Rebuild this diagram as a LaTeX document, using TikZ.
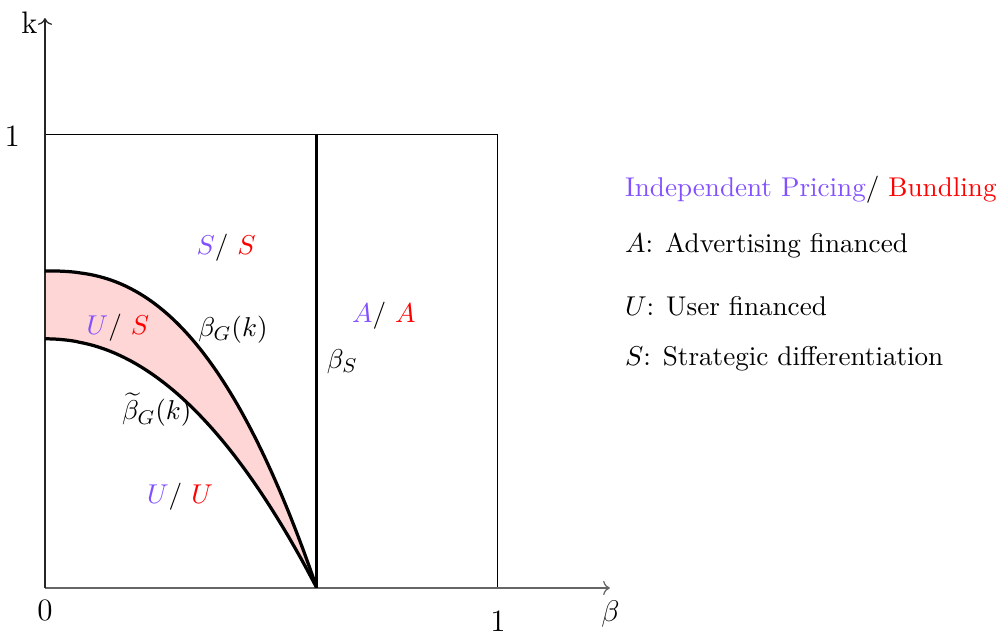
\documentclass[tikz,border=0pt]{standalone}
\usepackage{amsmath,amssymb}
\usepackage{tikz}
\usetikzlibrary{arrows.meta,positioning}
\usepackage{xcolor}
\definecolor{ipcol}{RGB}{130,80,255}
\definecolor{bucol}{RGB}{255,0,0}

\begin{document}
\begin{tikzpicture}[x=6.4cm,y=6.4cm,
  axis/.style={->, line width=0.5pt},
  thickcurve/.style={line width=1.3pt},
  lbl/.style={inner sep=1pt, font=\fontsize{10.9}{13}\selectfont},
  ticklbl/.style={inner sep=1pt, font=\fontsize{12.5}{15}\selectfont},
  legend/.style={anchor=west, inner sep=1pt, font=\fontsize{10.9}{13}\selectfont}
]
\useasboundingbox (-0.0993,-0.1038) rectangle (2.106,1.298);

% Region between the two curves
\fill[red!16] plot[domain=0:0.6, samples=80] (\x,{0.7*(1-(\x/0.6)^2.5)})
  -- plot[domain=0.6:0, samples=80] (\x,{0.55*(1-(\x/0.6)^2.1)}) -- cycle;

% Box
\draw[line width=0.4pt] (0,0) rectangle (1,1);

% Axes
\draw[axis, black!60] (0,0) -- (1.247,0);
\draw[axis, black!85] (0,0) -- (0,1.258);
\node[ticklbl, anchor=east] (klbl) at (-0.01,1.248) {k};
\node[ticklbl] (yone) at (-0.072,0.998) {1};
\node[ticklbl] (xzero) at (0,-0.05) {0};
\node[ticklbl] (xone) at (1,-0.073) {1};
\node[ticklbl] (blbl) at (1.248,-0.058) {$\beta$};

% Curves
\draw[thickcurve] plot[domain=0:0.6, samples=80] (\x,{0.7*(1-(\x/0.6)^2.5)});
\draw[thickcurve] plot[domain=0:0.6, samples=80] (\x,{0.55*(1-(\x/0.6)^2.1)});
\draw[thickcurve] (0.6,0) -- (0.6,1);

% Region labels
\node[lbl] (ss) at (0.40,0.752) {$\color{ipcol}S$/ $\color{bucol}S$};
\node[lbl] (us) at (0.161,0.574) {$\color{ipcol}U$/ $\color{bucol}S$};
\node[lbl] (uu) at (0.298,0.201) {$\color{ipcol}U$/ $\color{bucol}U$};
\node[lbl] (aa) at (0.748,0.600) {$\color{ipcol}A$/ $\color{bucol}A$};
\node[lbl] (bg) at (0.415,0.570) {$\beta_G(k)$};
\node[lbl] (bgt) at (0.247,0.393) {$\widetilde{\beta}_G(k)$};
\node[lbl] (bs) at (0.656,0.499) {$\beta_S$};

% Legend
\node[legend] (leg0) at (1.274,0.879) {\textcolor{ipcol}{Independent Pricing}/ \textcolor{bucol}{Bundling}};
\node[legend] (leg1) at (1.274,0.755) {$A$: Advertising financed};
\node[legend] (leg2) at (1.274,0.623) {$U$: User financed};
\node[legend] (leg3) at (1.274,0.506) {$S$: Strategic differentiation};

\end{tikzpicture}
\end{document}
